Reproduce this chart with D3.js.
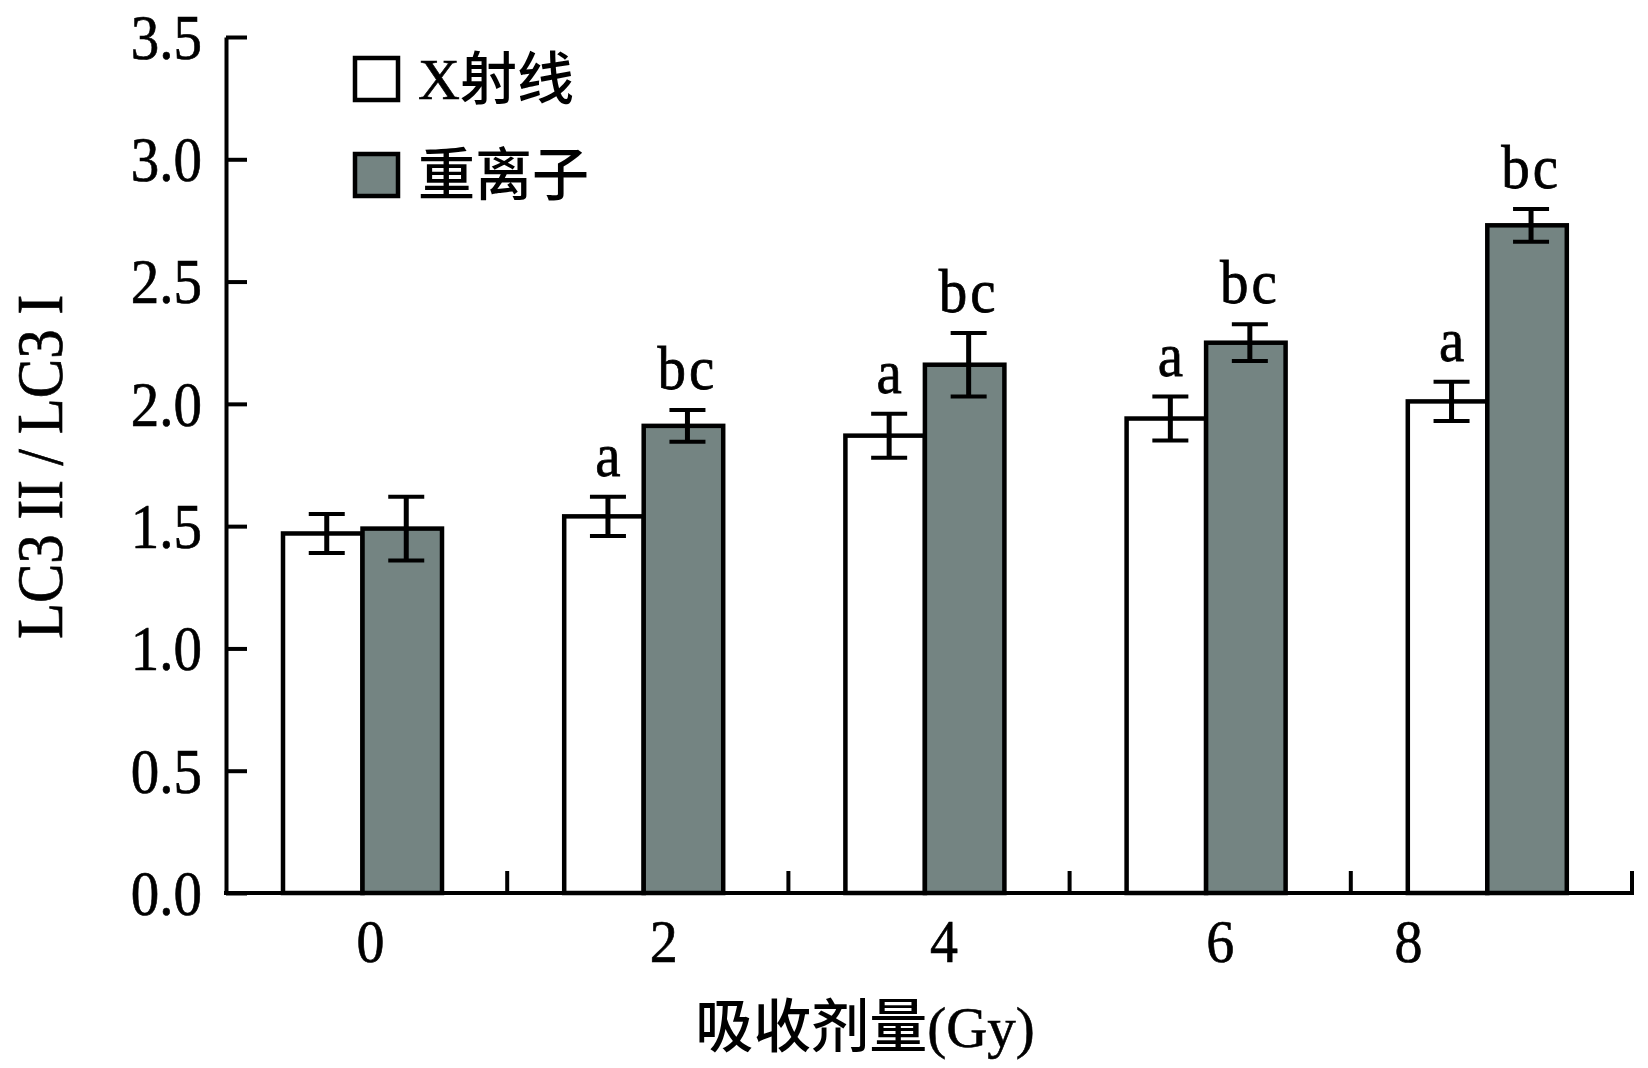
<!DOCTYPE html>
<html>
<head>
<meta charset="utf-8">
<script src="https://cdn.jsdelivr.net/npm/d3@7"></script>
<style>
  html, body { margin: 0; padding: 0; background: #fff; }
  svg { display: block; }
</style>
</head>
<body>
<svg id="chart" width="1648" height="1068"></svg>
<script>
// ---- data ----
const categories = ["0", "2", "4", "6", "8"];
const seriesNames = ["X射线", "重离子"];
const xrayValues  = [1.47, 1.54, 1.87, 1.94, 2.01];
const xrayErrors  = [0.08, 0.08, 0.09, 0.09, 0.08];
const heavyValues = [1.49, 1.91, 2.16, 2.25, 2.73];
const heavyErrors = [0.13, 0.065, 0.13, 0.075, 0.067];
const xrayLetters  = ["", "a", "a", "a", "a"];
const heavyLetters = ["", "bc", "bc", "bc", "bc"];
const yTicks = [0, 0.5, 1.0, 1.5, 2.0, 2.5, 3.0, 3.5];
const xTitle = "吸收剂量";
const xUnit = "(Gy)";
const yTitle = "LC3 II / LC3 I";

// ---- layout / style ----
const W = 1648, H = 1068;
const plotLeft = 226, plotRight = 1632, plotTop = 37, plotBottom = 893;
const serif = "'Liberation Serif','Times New Roman',serif";
const cjk = "'Noto Sans CJK SC','Noto Sans CJK JP',sans-serif";
const ink = "#000";
const grey = "#748482";
const colors = ["#ffffff", grey];
const labelShift = [4, 16, 15, 10, -83];

const svg = d3.select("#chart");
svg.append("rect").attr("width", W).attr("height", H).attr("fill", "#fff");

const x = d3.scaleBand().domain(categories).range([plotLeft, plotRight]).padding(0);
const xs = d3.scaleBand().domain(seriesNames).range([57, 216]).padding(0);
const y = d3.scaleLinear().domain([0, 3.5]).range([plotBottom, plotTop]);

// bars
const rows = [];
categories.forEach((c, i) => {
  rows.push({cat: c, s: seriesNames[0], v: xrayValues[i], e: xrayErrors[i], l: xrayLetters[i], k: 0});
  rows.push({cat: c, s: seriesNames[1], v: heavyValues[i], e: heavyErrors[i], l: heavyLetters[i], k: 1});
});

svg.append("g").selectAll("rect").data(rows).join("rect")
  .attr("x", d => x(d.cat) + xs(d.s))
  .attr("y", d => y(d.v))
  .attr("width", xs.bandwidth())
  .attr("height", d => y(0) - y(d.v))
  .attr("fill", d => colors[d.k])
  .attr("stroke", ink)
  .attr("stroke-width", 4.5);

// error bars
const ex = d => x(d.cat) + xs(d.s) + xs.bandwidth() / 2 + 4;
const eg = svg.append("g").attr("stroke", ink);
eg.selectAll("line.v").data(rows).join("line").attr("class", "v")
  .attr("x1", ex).attr("x2", ex)
  .attr("y1", d => y(d.v + d.e)).attr("y2", d => y(d.v - d.e))
  .attr("stroke-width", 5);
eg.selectAll("line.t").data(rows).join("line").attr("class", "t")
  .attr("x1", d => ex(d) - 18).attr("x2", d => ex(d) + 18)
  .attr("y1", d => y(d.v + d.e)).attr("y2", d => y(d.v + d.e))
  .attr("stroke-width", 4);
eg.selectAll("line.b").data(rows).join("line").attr("class", "b")
  .attr("x1", d => ex(d) - 18).attr("x2", d => ex(d) + 18)
  .attr("y1", d => y(d.v - d.e)).attr("y2", d => y(d.v - d.e))
  .attr("stroke-width", 4);

// significance letters
svg.append("g").selectAll("text").data(rows.filter(d => d.l)).join("text")
  .attr("transform", d => `translate(${ex(d)},${y(d.v + d.e) - 21}) scale(1,1.08)`)
  .attr("text-anchor", "middle")
  .attr("font-family", serif)
  .attr("font-size", 57)
  .attr("letter-spacing", d => d.l.length > 1 ? 3 : 0)
  .attr("fill", ink).attr("stroke", ink).attr("stroke-width", 0.7)
  .text(d => d.l);

// y axis
const yAxis = d3.axisLeft(y).tickValues(yTicks).tickFormat(d3.format(".1f"))
  .tickSizeInner(-21).tickSizeOuter(0).tickPadding(24);
const gy = svg.append("g").attr("transform", `translate(${plotLeft},0)`).call(yAxis);
gy.select(".domain").attr("stroke", ink).attr("stroke-width", 4);
gy.selectAll(".tick line").attr("stroke", ink).attr("stroke-width", 4);
gy.selectAll(".tick text").attr("font-family", serif).attr("font-size", 57)
  .attr("fill", ink).attr("stroke", ink).attr("stroke-width", 0.6)
  .attr("dy", "0.34em")
  .attr("transform", "scale(1,1.1)");

// x axis
const gx = svg.append("g");
gx.append("line").attr("x1", plotLeft - 2).attr("x2", plotRight + 2)
  .attr("y1", y(0)).attr("y2", y(0)).attr("stroke", ink).attr("stroke-width", 4);
const bounds = categories.slice(1).map(c => x(c)).concat([plotRight]);
gx.selectAll("line.tk").data(bounds).join("line").attr("class", "tk")
  .attr("x1", d => d).attr("x2", d => d)
  .attr("y1", y(0)).attr("y2", y(0) - 22)
  .attr("stroke", ink).attr("stroke-width", 4);
gx.selectAll("text").data(categories).join("text")
  .attr("transform", (d, i) => `translate(${x(d) + x.bandwidth() / 2 + labelShift[i]},962) scale(1,1.08)`)
  .attr("text-anchor", "middle")
  .attr("font-family", serif).attr("font-size", 56)
  .attr("fill", ink).attr("stroke", ink).attr("stroke-width", 0.6)
  .text(d => d);

// x title
const xt = svg.append("text").attr("x", 865).attr("y", 1047)
  .attr("text-anchor", "middle").attr("fill", ink);
xt.append("tspan").attr("font-family", cjk).attr("font-size", 58).attr("font-weight", 500).text(xTitle);
xt.append("tspan").attr("font-family", serif).attr("font-size", 57)
  .attr("stroke", ink).attr("stroke-width", 0.6).text(xUnit);

// y title
svg.append("text")
  .attr("transform", "translate(62,467) rotate(-90) scale(1,1.1)")
  .attr("text-anchor", "middle")
  .attr("font-family", serif).attr("font-size", 59)
  .attr("fill", ink).attr("stroke", ink).attr("stroke-width", 0.6)
  .text(yTitle);

// legend
const lg = svg.append("g");
const legendY = [79, 175];
seriesNames.forEach((s, i) => {
  lg.append("rect").attr("x", 355).attr("y", legendY[i] - 21)
    .attr("width", 43).attr("height", 42)
    .attr("fill", colors[i]).attr("stroke", ink).attr("stroke-width", 4.5);
  const t = lg.append("text").attr("x", 418).attr("y", legendY[i] + 20).attr("fill", ink);
  if (s.startsWith("X")) {
    t.append("tspan").attr("font-family", serif).attr("font-size", 58)
      .attr("stroke", ink).attr("stroke-width", 0.6).text("X");
    t.append("tspan").attr("font-family", cjk).attr("font-size", 57).attr("font-weight", 500).text(s.slice(1));
  } else {
    t.append("tspan").attr("font-family", cjk).attr("font-size", 57).attr("font-weight", 500).text(s);
  }
});
</script>
</body>
</html>
